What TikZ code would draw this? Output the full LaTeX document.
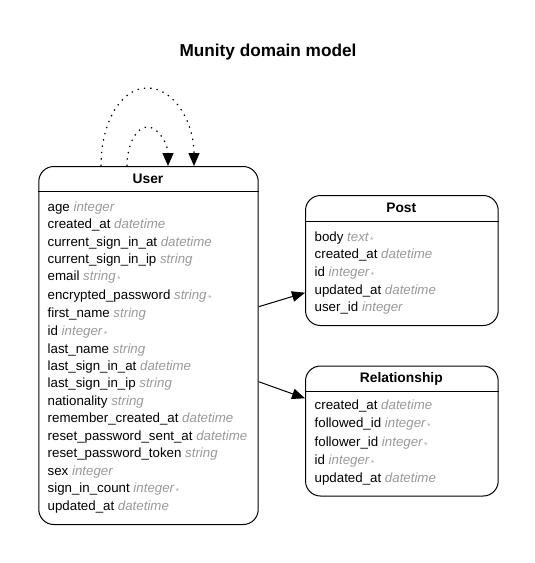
\documentclass[tikz,border=0pt]{standalone}
\usepackage{fontspec}
\setmainfont{Liberation Sans}
\usetikzlibrary{arrows.meta}
\definecolor{typegray}{HTML}{999999}
\definecolor{markgray}{HTML}{AAAAAA}
\newcommand{\ty}[1]{\textcolor{typegray}{\itshape #1}}
\newcommand{\mk}{\hspace{1.5pt}\raisebox{-1.8pt}{\textcolor{markgray}{\fontsize{9}{9}\selectfont *}}}
\tikzset{
  entity/.style={draw, line width=1pt, rounded corners=15pt, inner sep=0pt, anchor=north west},
  hdr/.style={font=\fontsize{13.8}{14}\selectfont\bfseries, inner sep=0pt},
  attr/.style={font=\fontsize{13.3}{14}\selectfont, inner sep=0pt, anchor=base west},
  rel/.style={line width=1pt, -{Triangle[length=13pt,width=10.5pt]}},
  selfrel/.style={line width=1.2pt, dash pattern=on 1.4pt off 5pt, -{Triangle[length=13pt,width=11pt,sep=0pt]}},
  sep/.style={line width=1pt}
}
\begin{document}
\begin{tikzpicture}[x=1pt,y=-1pt]
\useasboundingbox (0,0) rectangle (535,563);
\node[font=\fontsize{17.2}{18}\selectfont\bfseries, inner sep=0pt] (title) at (268,52) {Munity domain model};

% User
\node[entity, minimum width=219.4pt, minimum height=358pt] (user) at (38.3,166) {};
\node[hdr] (userh) at (148,179) {User};
\draw[sep] (user.west |- 0,191.7) -- (user.east |- 0,191.7);
\foreach \yy/\tx [count=\i] in {
 206.7/{age \ty{integer}},
 224/{created\_at \ty{datetime}},
 241.7/{current\_sign\_in\_at \ty{datetime}},
 259/{current\_sign\_in\_ip \ty{string}},
 276/{email \ty{string}\mk},
 295/{encrypted\_password \ty{string}\mk},
 313.3/{first\_name \ty{string}},
 330.7/{id \ty{integer}\mk},
 349/{last\_name \ty{string}},
 366/{last\_sign\_in\_at \ty{datetime}},
 383.3/{last\_sign\_in\_ip \ty{string}},
 401/{nationality \ty{string}},
 418.3/{remember\_created\_at \ty{datetime}},
 435.7/{reset\_password\_sent\_at \ty{datetime}},
 453.3/{reset\_password\_token \ty{string}},
 470.7/{sex \ty{integer}},
 487.7/{sign\_in\_count \ty{integer}\mk},
 506/{updated\_at \ty{datetime}}}
 \node[attr] (u\i) at (47.5,\yy+4.6) {\tx};

% Post
\node[entity, minimum width=192.7pt, minimum height=130pt] (post) at (305,195) {};
\node[hdr] (posth) at (401.3,208.3) {Post};
\draw[sep] (post.west |- 0,221.7) -- (post.east |- 0,221.7);
\foreach \yy/\tx [count=\i] in {
 236.7/{body \ty{text}\mk},
 254.3/{created\_at \ty{datetime}},
 271.7/{id \ty{integer}\mk},
 290/{updated\_at \ty{datetime}},
 307.3/{user\_id \ty{integer}}}
 \node[attr] (p\i) at (314.5,\yy+4.6) {\tx};

% Relationship
\node[entity, minimum width=192.7pt, minimum height=130pt] (relship) at (305,365.5) {};
\node[hdr] (relh) at (401.3,378.8) {Relationship};
\draw[sep] (relship.west |- 0,391.7) -- (relship.east |- 0,391.7);
\foreach \yy/\tx [count=\i] in {
 405/{created\_at \ty{datetime}},
 422.7/{followed\_id \ty{integer}\mk},
 441.7/{follower\_id \ty{integer}\mk},
 460/{id \ty{integer}\mk},
 478.3/{updated\_at \ty{datetime}}}
 \node[attr] (r\i) at (314.5,\yy+4.6) {\tx};

% Connectors
\draw[rel] (user.east |- 0,306.7) -- (post.west |- 0,292.7);
\draw[rel] (user.east |- 0,381.7) -- (relship.west |- 0,398.3);

% Self-relations
\draw[selfrel] (101,0 |- user.north) .. controls (101,122) and (121,88) .. (147.5,88)
   .. controls (174,88) and (194,122) .. (194,0 |- user.north);
\draw[selfrel] (127,0 |- user.north) .. controls (127,145) and (136,127) .. (147.5,127)
   .. controls (159,127) and (168,145) .. (168,0 |- user.north);
\end{tikzpicture}
\end{document}
